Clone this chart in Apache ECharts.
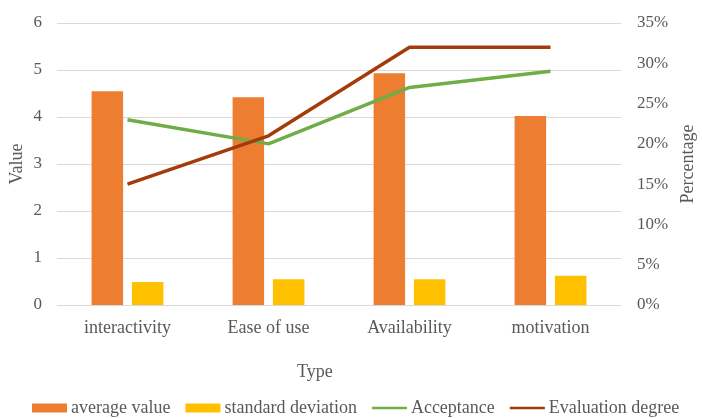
<!DOCTYPE html>
<html>
<head>
<meta charset="utf-8">
<script src="https://cdn.jsdelivr.net/npm/echarts@6/dist/echarts.min.js"></script>
<style>html,body{margin:0;padding:0;background:#fff}#c{width:702px;height:418px}</style>
</head>
<body>
<div id="c"></div>
<script>
var categories = ['interactivity', 'Ease of use', 'Availability', 'motivation'];
var averageValue = [4.55, 4.42, 4.93, 4.02];
var standardDeviation = [0.49, 0.55, 0.55, 0.62];
var acceptance = [23, 20, 27, 29];
var evaluationDegree = [15, 21, 32, 32];
var leftTicks = {min: 0, max: 6, interval: 1};
var rightTicks = {min: 0, max: 35, interval: 5};

var font = 'Liberation Serif';
var txt = '#595959';
var lineIcon = 'path://M0,0L0.01,0M0,3.2L35,3.2L35,5.8L0,5.8ZM0,9L0.01,9';
var chart = echarts.init(document.getElementById('c'));
chart.setOption({
  animation: false,
  textStyle: {fontFamily: font, color: txt},
  title: {
    text: 'Type', left: 292, top: 358,
    textStyle: {fontFamily: font, fontSize: 18, fontWeight: 'normal', color: txt}
  },
  grid: {left: 57, right: 81, top: 23, bottom: 113, containLabel: false, outerBoundsMode: 'none'},
  legend: {
    left: 27, top: 394,
    itemWidth: 35, itemHeight: 9, itemGap: 15,
    textStyle: {fontFamily: font, fontSize: 18, color: txt, padding: [0, 0, 0, -1]},
    data: [
      {name: 'average value', icon: 'rect'},
      {name: 'standard deviation', icon: 'rect'},
      {name: 'Acceptance', icon: lineIcon, itemStyle: {color: '#70AD47'}, lineStyle: {width: 0, opacity: 0}},
      {name: 'Evaluation degree', icon: lineIcon, itemStyle: {color: '#A33C0A'}, lineStyle: {width: 0, opacity: 0}}
    ]
  },
  xAxis: {
    type: 'category', data: categories,
    axisLine: {show: false}, axisTick: {show: false},
    axisLabel: {fontFamily: font, fontSize: 18, color: txt, margin: 14}
  },
  yAxis: [{
    type: 'value', min: leftTicks.min, max: leftTicks.max, interval: leftTicks.interval,
    name: 'Value', nameLocation: 'middle', nameGap: 31, nameRotate: 90, nameMoveOverlap: false,
    nameTextStyle: {fontFamily: font, fontSize: 18, color: txt},
    axisLine: {show: false}, axisTick: {show: false},
    axisLabel: {fontFamily: font, fontSize: 17, color: txt, margin: 15},
    splitLine: {lineStyle: {color: '#d9d9d9', width: 1}}
  }, {
    type: 'value', min: rightTicks.min, max: rightTicks.max, interval: rightTicks.interval,
    name: 'Percentage', nameLocation: 'middle', nameGap: 58, nameRotate: 90, nameMoveOverlap: false,
    nameTextStyle: {fontFamily: font, fontSize: 18, color: txt},
    axisLine: {show: false}, axisTick: {show: false},
    axisLabel: {fontFamily: font, fontSize: 17, color: txt, margin: 16, formatter: '{value}%'},
    splitLine: {show: false}
  }],
  series: [
    {name: 'average value', type: 'bar', data: averageValue, barWidth: 31.5, barGap: '28%',
     itemStyle: {color: '#ED7D31'}},
    {name: 'standard deviation', type: 'bar', data: standardDeviation, barWidth: 31.5,
     itemStyle: {color: '#FFC000'}},
    {name: 'Acceptance', type: 'line', yAxisIndex: 1, data: acceptance, symbol: 'none',
     lineStyle: {color: '#70AD47', width: 3.5}, itemStyle: {color: '#70AD47'}},
    {name: 'Evaluation degree', type: 'line', yAxisIndex: 1, data: evaluationDegree, symbol: 'none',
     lineStyle: {color: '#A33C0A', width: 3.5}, itemStyle: {color: '#A33C0A'}}
  ]
});
</script>
</body>
</html>
